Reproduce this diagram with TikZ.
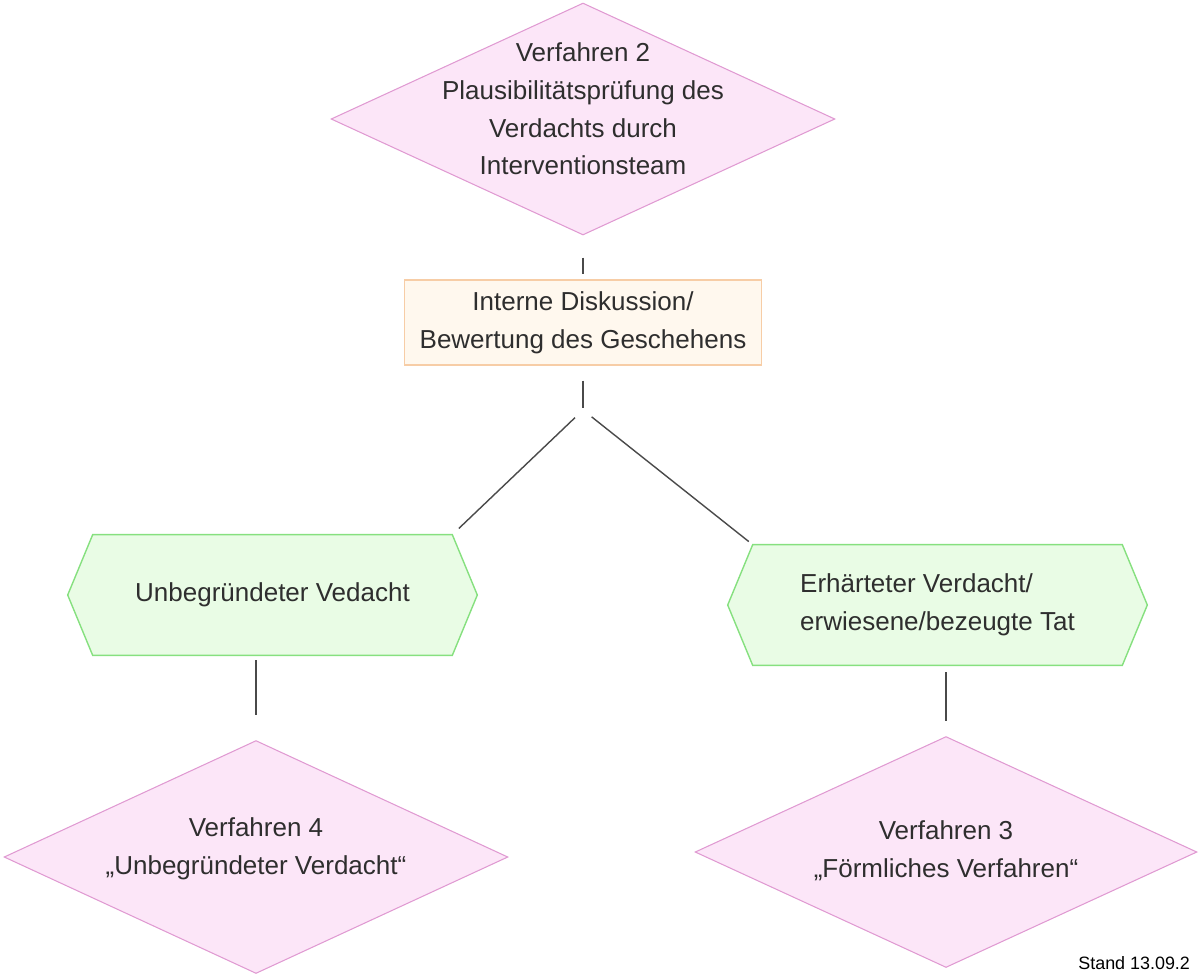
\documentclass[tikz,border=0pt]{standalone}
\usepackage{fontspec}
\setmainfont{Liberation Sans}
\usetikzlibrary{shapes.geometric,calc,backgrounds}

\definecolor{verfahrenfill}{HTML}{FCE6F8}
\definecolor{verfahrenrand}{HTML}{E09AD2}
\definecolor{gruenfill}{HTML}{E9FCE5}
\definecolor{gruenrand}{HTML}{86E07F}
\definecolor{orangefill}{HTML}{FFF8EE}
\definecolor{orangerand}{HTML}{F7CDA6}
\definecolor{schrift}{HTML}{2E2E2E}
\definecolor{linie}{HTML}{4A4A4A}

\tikzset{
	schild/.style={font=\fontsize{14.8}{21.5}\selectfont, text=schrift, align=center},
	verfahren/.style={diamond, draw=verfahrenrand, fill=verfahrenfill, line width=0.6pt, inner sep=0pt, minimum width=10.08cm, minimum height=4.64cm},
	verdacht/.style={rectangle, inner sep=0pt, minimum width=7.18cm, minimum height=2.4cm, schild},
	hexrand/.style={draw=gruenrand, fill=gruenfill, line width=0.8pt},
	bewertung/.style={rectangle, draw=orangerand, fill=orangefill, line width=0.6pt, minimum width=7.14cm, minimum height=1.7cm, schild},
	verbindung/.style={draw=linie, line width=0.8pt},
}

\begin{document}
\begin{tikzpicture}[x=0.02cm, y=-0.02cm]
		%%%%% START %%%%%
		\useasboundingbox (0, 0) rectangle (1199, 975);
		
		\node[verfahren] (v2) at (583, 119) {};
		\node[schild] (v2text) at ([yshift=0.2cm]v2) {Verfahren 2\\Plausibilitätsprüfung des\\Verdachts durch\\Interventionsteam};
		
		\node[bewertung] (bew) at (583, 322.5) {Interne Diskussion/\\Bewertung des Geschehens};
		\coordinate (gabel) at (583, 410);
		
		\node[verdacht] (unb) at (272.5, 595) {Unbegründeter Vedacht};
		\node[verdacht, minimum width=7.38cm, align=left] (erh) at (937.5, 605) {Erhärteter Verdacht/\\erwiesene/bezeugte Tat};
		
		\begin{scope}[on background layer]
			\foreach \n in {unb, erh}
				\draw[hexrand] ([xshift=-0.5cm]\n.west) -- (\n.north west) -- (\n.north east) -- ([xshift=0.5cm]\n.east) -- (\n.south east) -- (\n.south west) -- cycle;
		\end{scope}
		
		\node[verfahren, minimum width=10.08cm, minimum height=4.66cm] (v4) at (256, 857) {};
		\node[schild] (v4text) at ([yshift=0.16cm]v4) {Verfahren 4\\„Unbegründeter Verdacht“};
		
		\node[verfahren, minimum width=10.04cm, minimum height=4.62cm] (v3) at (946, 852) {};
		\node[schild] (v3text) at ([yshift=0.02cm]v3) {Verfahren 3\\„Förmliches Verfahren“};
		
		% connectors
		\draw[verbindung, shorten <=0.44cm, shorten >=0.1cm] (v2.south) -- (bew.north);
		\draw[verbindung, shorten <=0.3cm, shorten >=0.04cm] (bew.south) -- (gabel);
		\draw[verbindung, shorten <=0.22cm, shorten >=0.18cm] (gabel) -- (unb.north east);
		\draw[verbindung, shorten <=0.22cm, shorten >=0.1cm] (gabel) -- (erh.north west);
		\draw[verbindung, shorten <=0.1cm, shorten >=0.5cm] (unb.south -| v4.north) -- (v4.north);
		\draw[verbindung, shorten <=0.14cm, shorten >=0.3cm] (erh.south -| v3.north) -- (v3.north);
		
		\node[anchor=base west, font=\fontsize{10.2}{12}\selectfont, text=black, inner sep=0pt] (stand) at (1078, 969) {Stand 13.09.2};
		%%%%% END %%%%%
\end{tikzpicture}
\end{document}
